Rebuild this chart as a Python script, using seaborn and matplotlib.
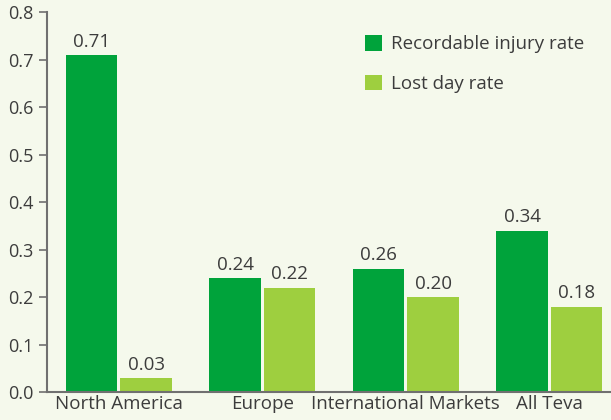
import matplotlib.pyplot as plt
import pandas as pd
import seaborn as sns

# Data #

regions = ["North America", "Europe", "International Markets", "All Teva"]
recordable_injury_rate = [0.71, 0.24, 0.26, 0.34]
lost_day_rate = [0.03, 0.22, 0.20, 0.18]
series_names = ["Recordable injury rate", "Lost day rate"]
y_ticks = [0.0, 0.1, 0.2, 0.3, 0.4, 0.5, 0.6, 0.7, 0.8]

bg = "#F5F9EC"
text_col = "#3C3C3C"
axis_col = "#707070"

df = pd.DataFrame({
    "region": regions * 2,
    "series": [series_names[0]] * 4 + [series_names[1]] * 4,
    "value": recordable_injury_rate + lost_day_rate,
})

sns.set_style("white")
plt.rcParams['font.family'] = ['Open Sans', 'DejaVu Sans']

fig = plt.figure(figsize=(6.11, 4.20), dpi=100, facecolor=bg)
ax = fig.add_axes([0.077, 0.0667, 0.923, 0.9043])
ax.set_facecolor(bg)

sns.barplot(data=df, x="region", y="value", hue="series", order=regions,
            hue_order=series_names, palette=["#00A33B", "#9ECF3F"],
            width=0.76, gap=0.05, saturation=1, linewidth=0, ax=ax)

# Value labels above bars
for container in ax.containers:
    ax.bar_label(container, fmt="%.2f", padding=3, fontsize=13.5, color=text_col)

ax.set(xlabel="", ylabel="", ylim=[0, 0.8], xlim=[-0.5, 3.43])
ax.set_yticks(y_ticks)
ax.set_yticklabels(["%.1f" % t for t in y_ticks])
ax.tick_params(axis="y", direction="out", length=6, width=1.2, color=axis_col,
               labelsize=13, labelcolor=text_col, pad=4, left=True)
ax.tick_params(axis="x", length=0, labelsize=13.5, labelcolor=text_col, pad=2)

for side in ["top", "right"]:
    ax.spines[side].set_visible(False)
for side in ["left", "bottom"]:
    ax.spines[side].set_color(axis_col)
    ax.spines[side].set_linewidth(1.5)

leg = ax.legend(loc="upper left", bbox_to_anchor=(0.564, 0.94), frameon=False,
                fontsize=13.5, handlelength=0.9, handleheight=0.9,
                labelspacing=1.15, handletextpad=0.5, borderpad=0, borderaxespad=0)
for t in leg.get_texts():
    t.set_color(text_col)

plt.savefig("out.png", dpi=100, facecolor=bg)
